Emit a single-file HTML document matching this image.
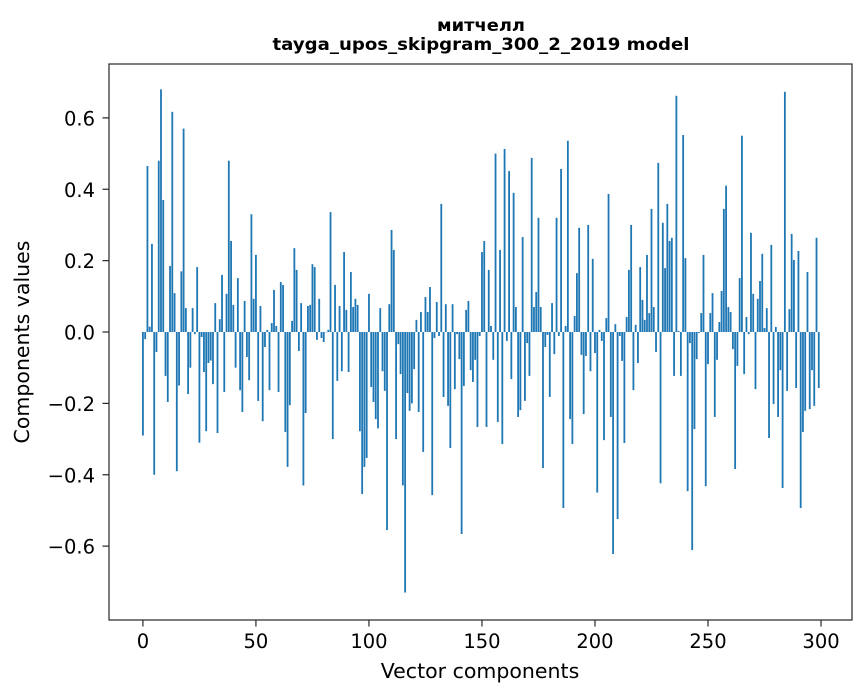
<!DOCTYPE html>
<html><head><meta charset="utf-8"><style>
body{margin:0;background:#fff;}
svg{display:block;font-family:"DejaVu Sans","Liberation Sans",sans-serif;}
</style></head><body>
<svg id="chart" width="867" height="696">
<rect x="0" y="0" width="867" height="696" fill="#fff"/>
<text x="481" y="31" text-anchor="middle" font-size="17" font-weight="bold" textLength="88" lengthAdjust="spacingAndGlyphs">митчелл</text>
<text x="481" y="50" text-anchor="middle" font-size="17" font-weight="bold" textLength="417" lengthAdjust="spacingAndGlyphs">tayga_upos_skipgram_300_2_2019 model</text>
<g id="bars"></g>
<g id="axes"></g>
<text x="480" y="678" text-anchor="middle" font-size="20.5">Vector components</text>
<text transform="translate(29,342) rotate(-90)" text-anchor="middle" font-size="20.5">Components values</text>
</svg>
<script>
const values = [-0.29,-0.02,0.465,0.015,0.247,-0.40,-0.056,0.48,0.68,0.37,-0.123,-0.196,0.185,0.617,0.109,-0.39,-0.15,0.17,0.57,0.067,
-0.174,-0.10,0.067,-0.006,0.182,-0.31,-0.014,-0.112,-0.278,-0.087,-0.08,-0.146,0.081,-0.283,0.036,0.16,-0.168,0.107,0.48,0.255,
0.076,-0.10,0.151,-0.163,-0.224,0.087,-0.07,-0.135,0.33,0.093,0.216,-0.193,0.073,-0.25,-0.042,0.006,-0.163,0.025,0.118,0.017,
-0.168,0.14,0.132,-0.28,-0.378,-0.205,0.031,0.235,0.174,-0.053,0.081,-0.43,-0.227,0.073,0.076,0.19,0.182,-0.022,0.093,-0.017,
-0.028,0.0,0.006,0.336,-0.30,0.132,-0.137,0.073,-0.11,0.224,0.062,-0.112,0.168,0.07,0.093,0.076,-0.278,-0.454,-0.378,-0.353,
0.107,-0.154,-0.196,-0.244,-0.27,0.067,-0.11,-0.165,-0.555,0.078,0.286,0.23,-0.30,-0.034,-0.118,-0.43,-0.73,-0.171,-0.221,-0.2,
-0.104,0.034,-0.224,0.056,-0.336,0.098,0.056,0.126,-0.457,-0.017,0.084,-0.011,0.359,-0.182,0.078,-0.207,-0.325,0.078,-0.16,-0.006,
-0.076,-0.566,-0.151,0.062,0.087,-0.107,-0.14,-0.078,-0.266,-0.011,0.224,0.255,-0.266,0.174,0.017,-0.078,0.50,-0.252,0.23,-0.314,
0.513,-0.025,0.451,-0.132,0.39,0.07,-0.238,-0.219,0.266,-0.193,-0.031,-0.123,0.488,0.07,0.112,0.32,0.07,-0.381,-0.042,-0.008,
-0.182,0.081,-0.062,0.32,-0.011,0.457,-0.493,0.017,0.536,-0.244,-0.314,0.045,0.165,0.292,-0.064,-0.23,-0.067,0.30,-0.11,0.205,
-0.059,-0.45,0.006,-0.025,-0.303,0.039,0.387,-0.238,-0.622,0.022,-0.524,-0.011,-0.081,-0.311,0.042,0.174,0.30,-0.163,0.02,-0.087,
0.182,0.09,0.034,0.216,0.053,0.345,0.07,-0.056,0.474,-0.424,0.306,0.179,0.359,0.255,0.264,-0.123,0.662,0.003,-0.123,0.552,
0.207,-0.446,-0.031,-0.611,-0.272,-0.076,-0.003,0.053,0.216,-0.432,-0.09,0.053,0.109,-0.238,-0.078,0.028,0.115,0.345,0.41,0.07,
0.056,-0.048,-0.384,-0.095,0.151,0.55,-0.118,0.042,-0.006,0.278,0.107,-0.16,0.093,0.143,0.219,0.011,0.067,-0.297,0.244,-0.202,
0.014,-0.238,-0.107,-0.437,0.673,-0.165,0.064,0.275,0.202,-0.157,0.227,-0.493,-0.28,-0.221,0.168,-0.216,-0.107,-0.207,0.264,-0.157];
const xTicks = [0,50,100,150,200,250,300];
const yTicks = [-0.6,-0.4,-0.2,0.0,0.2,0.4,0.6];
const yTickLabels = ["\u22120.6","\u22120.4","\u22120.2","0.0","0.2","0.4","0.6"];

const NS='http://www.w3.org/2000/svg';
const L=109,R=852,T=64,B=620;
const xMin=-15.0,xMax=313.7,yMin=-0.807,yMax=0.751;
function xs(v){return L+(v-xMin)/(xMax-xMin)*(R-L);}
function ys(v){return B-(v-yMin)/(yMax-yMin)*(B-T);}
const bars=document.getElementById('bars');
const bw=xs(0.8)-xs(0);
values.forEach((v,i)=>{
  const r=document.createElementNS(NS,'rect');
  const y0=ys(0),y1=ys(v);
  r.setAttribute('x',xs(i)-bw/2);
  r.setAttribute('y',Math.min(y0,y1));
  r.setAttribute('width',bw);
  r.setAttribute('height',Math.max(Math.abs(y1-y0),0.3));
  r.setAttribute('fill','#1f77b4');
  
  
  bars.appendChild(r);
});
const axes=document.getElementById('axes');
const frame=document.createElementNS(NS,'rect');
frame.setAttribute('x',L);frame.setAttribute('y',T);
frame.setAttribute('width',R-L);frame.setAttribute('height',B-T);
frame.setAttribute('fill','none');frame.setAttribute('stroke','#262626');frame.setAttribute('stroke-width','1.2');


axes.appendChild(frame);
xTicks.forEach(t=>{
  const x=xs(t);
  const ln=document.createElementNS(NS,'line');
  ln.setAttribute('x1',x);ln.setAttribute('x2',x);ln.setAttribute('y1',B);ln.setAttribute('y2',B+6.5);
  ln.setAttribute('stroke','#262626');ln.setAttribute('stroke-width','1.2');
  
  
  axes.appendChild(ln);
  const tx=document.createElementNS(NS,'text');
  tx.setAttribute('x',x);tx.setAttribute('y',B+28);tx.setAttribute('text-anchor','middle');tx.setAttribute('font-size','19.5');
  tx.textContent=t;
  
  
  axes.appendChild(tx);
});
yTicks.forEach((t,i)=>{
  const y=ys(t);
  const ln=document.createElementNS(NS,'line');
  ln.setAttribute('x1',L-6.5);ln.setAttribute('x2',L);ln.setAttribute('y1',y);ln.setAttribute('y2',y);
  ln.setAttribute('stroke','#262626');ln.setAttribute('stroke-width','1.2');
  
  
  axes.appendChild(ln);
  const tx=document.createElementNS(NS,'text');
  tx.setAttribute('x',L-14);tx.setAttribute('y',y+7.5);tx.setAttribute('text-anchor','end');tx.setAttribute('font-size','19.5');
  tx.textContent=yTickLabels[i];
  
  
  axes.appendChild(tx);
});
</script>
</body></html>
